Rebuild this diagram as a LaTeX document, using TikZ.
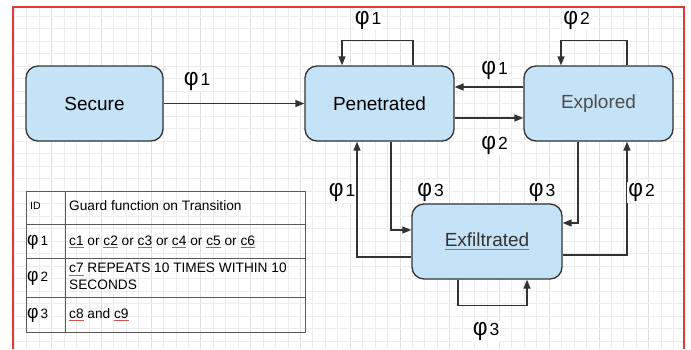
\documentclass[tikz,border=0pt]{standalone}
\usepackage{fontspec}
\setmainfont{Liberation Sans}
\usepackage{graphicx}
\usetikzlibrary{arrows.meta}

\definecolor{boxblue}{HTML}{C5E3F6}
\definecolor{boxline}{HTML}{333333}
\definecolor{tabline}{HTML}{5A5A5A}
\definecolor{gridminor}{HTML}{EDEDED}
\definecolor{gridmajor}{HTML}{E0E0E0}
\definecolor{framered}{HTML}{E53935}
\definecolor{spellred}{HTML}{D9534F}

% red spell-check underline
\newsavebox\spellbox
\newcommand\spell[1]{\sbox\spellbox{#1}\rlap{\textcolor{spellred}{\rule[-3pt]{\wd\spellbox}{1pt}}}\usebox\spellbox}
\newcommand\guardid[1]{\scalebox{1.3}[1.4]{φ}\hspace{2pt}#1}

\tikzset{
  state/.style={draw=boxline, line width=1.3pt, fill=boxblue, rounded corners=12pt,
    minimum width=149pt, minimum height=75pt, inner sep=0pt, font=\fontsize{19}{22}\selectfont},
  guard/.style={fill=white, inner sep=1pt, anchor=base, font=\fontsize{17.5}{20}\selectfont},
  arr/.style={draw=boxline, line width=1.3pt, -{Triangle[length=9pt,width=7pt]}},
  cell/.style={anchor=base west, inner sep=0pt, font=\fontsize{13.7}{16}\selectfont},
  cellid/.style={anchor=base west, inner sep=0pt, font=\fontsize{13.5}{16}\selectfont},
}

\begin{document}
\begin{tikzpicture}[x=1pt, y=-1pt]
    \useasboundingbox (0,0) rectangle (691,349);

    % Grid
    \begin{scope}
      \clip (13,7) rectangle (684,349);
      \foreach \i in {0,...,54}
        \draw[gridminor, line width=1pt] ({14.38+12.44*\i},7) -- ++(0,342);
      \foreach \i in {3,7,...,51}
        \draw[gridmajor, line width=1pt] ({14.38+12.44*\i},7) -- ++(0,342);
      \foreach \j in {0,...,26}
        \draw[gridminor, line width=1pt] (13,{16+12.5*\j}) -- (684,{16+12.5*\j});
    \end{scope}
    \draw[framered, line width=1.2pt] (13,349) -- (13,7) -- (684,7) -- (684,349);

    % States
    \node[state, minimum width=137pt] (sec) at (94.5,103.5) {Secure};
    \node[state] (pen) at (379.5,103.5) {Penetrated};
    \node[state, text=black!70] (exp) at (598.5,103.5) {Explored};
    \node[state, minimum width=150pt, text=black!80] (exf) at (487,241.5) {\spell{Exfiltrated}};

    % Transitions
    \draw[arr] (sec.east) -- (pen.west);
    \draw[arr] ([xshift=33.5]pen.north) -- ++(0,-25) -| ([xshift=-37.5]pen.north);
    \draw[arr] ([xshift=28.5]exp.north) -- ++(0,-25) -| ([xshift=-37.5]exp.north);
    \draw[arr] ([yshift=16.5]exp.west) -- ([yshift=16.5]pen.east);
    \draw[arr] ([yshift=-14.5]pen.east) -- ([yshift=-14.5]exp.west);
    \draw[arr] ([xshift=11.5]pen.south) |- ([yshift=11.5]exf.west);
    \draw[arr] ([yshift=-15.5]exf.west) -| ([xshift=-22.5]pen.south);
    \draw[arr] ([xshift=-20.5]exp.south) |- ([yshift=18.5]exf.east);
    \draw[arr] ([yshift=-13.5]exf.east) -| ([xshift=28.5]exp.south);
    \draw[arr] ([xshift=-29]exf.south) -- ++(0,26) -| ([xshift=40]exf.south);

    % Guard labels
    \node[guard] (gsecpen) at (197,85) {\guardid{1}};
    \node[guard] (gpenpen) at (368,24) {\guardid{1}};
    \node[guard] (gexpexp) at (576.5,24) {\guardid{2}};
    \node[guard] (gexppen) at (494.5,74) {\guardid{1}};
    \node[guard] (gpenexp) at (494.5,149) {\guardid{2}};
    \node[guard] (gexfpen) at (342,196.7) {\guardid{1}};
    \node[guard] (gpenexf) at (430.5,196.7) {\guardid{3}};
    \node[guard] (gexpexf) at (542,196.7) {\guardid{3}};
    \node[guard] (gexfexp) at (641.5,196.7) {\guardid{2}};
    \node[guard] (gexfexf) at (486,335.7) {\guardid{3}};

    % Guard table
    \draw[tabline, line width=1pt] (26,191) rectangle (305,332);
    \draw[tabline, line width=1pt] (65,191) -- (65,332);
    \foreach \y in {224,258,297}
      \draw[tabline, line width=1pt] (26,\y) -- (305,\y);
    \node[cell, font=\fontsize{10.5}{12}\selectfont] (hid) at (30,209.5) {ID};
    \node[cell] (hguard) at (69,210) {Guard function on Transition};
    \node[cellid] (id1) at (27,245) {\guardid{1}};
    \node[cell] (row1) at (69,245) {\spell{c1} or \spell{c2} or \spell{c3} or \spell{c4} or \spell{c5} or \spell{c6}};
    \node[cellid] (id2) at (27,281.7) {\guardid{2}};
    \node[cell] (row2a) at (69,272.7) {\spell{c7} REPEATS 10 TIMES WITHIN 10};
    \node[cell] (row2b) at (69,289) {SECONDS};
    \node[cellid] (id3) at (27,318) {\guardid{3}};
    \node[cell] (row3) at (69,318) {\spell{c8} and \spell{c9}};
\end{tikzpicture}
\end{document}
